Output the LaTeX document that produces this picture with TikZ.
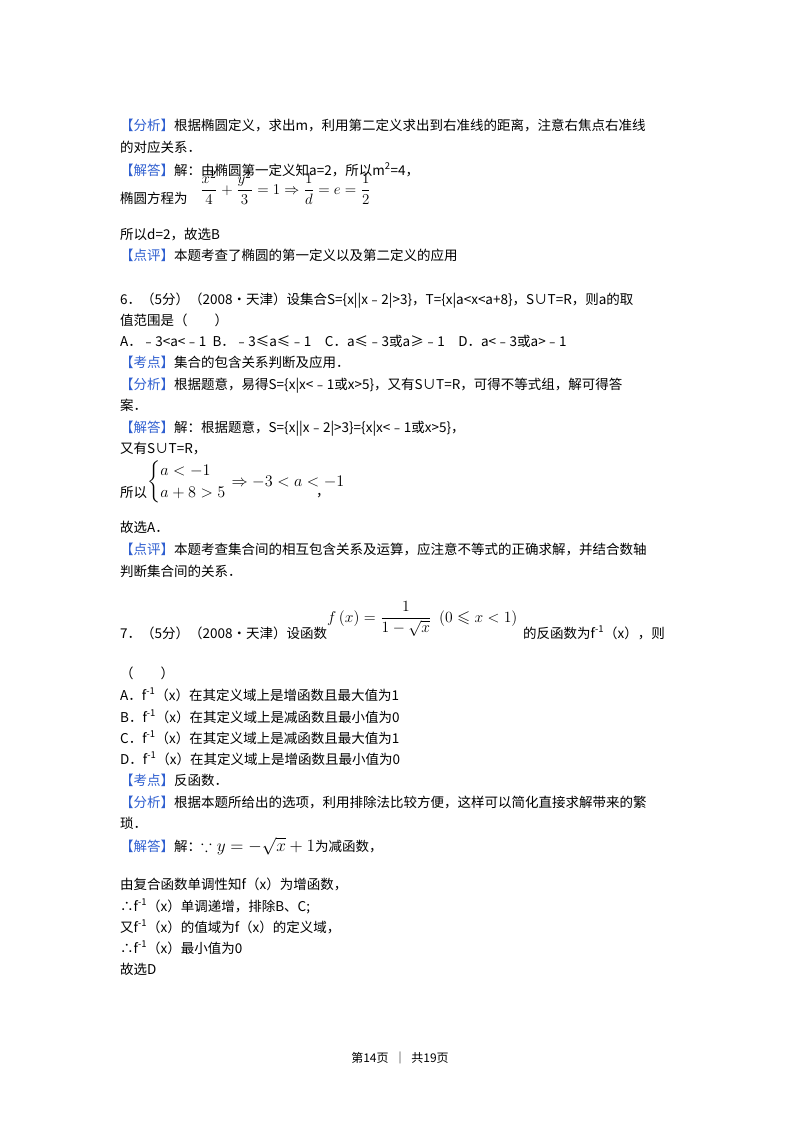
\documentclass[tikz,border=0pt]{standalone}
\usepackage{amsmath,amssymb}
\usepackage{fontspec}
\setmainfont{Noto Sans CJK SC}
\definecolor{tagblue}{HTML}{2F5FD0}
\newcommand{\tg}[1]{\textcolor{tagblue}{【#1】}}
\begin{document}
\begin{tikzpicture}[x=1pt,y=-1pt,
  ln/.style={anchor=base west,inner sep=0pt,font=\fontsize{13.5}{16}\selectfont},
  fm/.style={anchor=base west,inner sep=0pt,font=\fontsize{13}{16}\selectfont}]
\useasboundingbox (0,0) rectangle (800,1132);
\fill[white] (0,0) rectangle (800,1132);
\node[ln] (l1) at (120,130) {\tg{分析}根据椭圆定义，求出m，利用第二定义求出到右准线的距离，注意右焦点右准线};
\node[ln] (l2) at (120,152) {的对应关系．};
\node[ln] (l3) at (120,175) {\tg{解答}解：由椭圆第一定义知a=2，所以m\textsuperscript{2}=4，};
\node[ln] (l4) at (120,203) {椭圆方程为};
\node[fm] (f1) at (200,194) {\scalebox{1.25}{$\dfrac{x^2}{4}+\dfrac{y^2}{3}=1\Rightarrow\dfrac{1}{d}=e=\dfrac{1}{2}$}};
\node[ln] (l5) at (120,239) {所以d=2，故选B};
\node[ln] (l6) at (120,260) {\tg{点评}本题考查了椭圆的第一定义以及第二定义的应用};
\node[ln] (l7) at (120,304) {6．（5分）（2008•天津）设集合S=\{x||x﹣2|>3\}，T=\{x|a<x<a+8\}，S∪T=R，则a的取};
\node[ln] (l8) at (120,325) {值范围是（　　）};
\node[ln] (l9) at (120,346) {A．﹣3<a<﹣1\ \ B．﹣3≤a≤﹣1\quad C．a≤﹣3或a≥﹣1\quad D．a<﹣3或a>﹣1};
\node[ln] (l10) at (120,367) {\tg{考点}集合的包含关系判断及应用．};
\node[ln] (l11) at (120,389) {\tg{分析}根据题意，易得S=\{x|x<﹣1或x>5\}，又有S∪T=R，可得不等式组，解可得答};
\node[ln] (l12) at (120,410) {案．};
\node[ln] (l13) at (120,432) {\tg{解答}解：根据题意，S=\{x||x﹣2|>3\}=\{x|x<﹣1或x>5\}，};
\node[ln] (l14) at (120,453) {又有S∪T=R，};
\node[ln] (l15) at (120,497) {所以};
\node[fm] (f2) at (147,486) {\scalebox{1.35}{$\left\{\begin{array}{@{}l@{}}a<-1\\ a+8>5\end{array}\right.\Rightarrow -3<a<-1$}};
\node[ln] (c1) at (316,496) {，};
\node[ln] (l16) at (120,532) {故选A．};
\node[ln] (l17) at (120,554) {\tg{点评}本题考查集合间的相互包含关系及运算，应注意不等式的正确求解，并结合数轴};
\node[ln] (l18) at (120,576) {判断集合间的关系．};
\node[ln] (l19) at (120,638) {7．（5分）（2008•天津）设函数};
\node[fm] (f3) at (327,622) {\scalebox{1.3}{$f\,(x)=\dfrac{1}{1-\sqrt{x}}\ \ (0\leqslant x<1)$}};
\node[ln] (l20) at (523,638) {的反函数为f\textsuperscript{-1}（x），则};
\node[ln] (l21) at (120,678) {（　　）};
\node[ln] (l22) at (120,700) {A．f\textsuperscript{-1}（x）在其定义域上是增函数且最大值为1};
\node[ln] (l23) at (120,722) {B．f\textsuperscript{-1}（x）在其定义域上是减函数且最小值为0};
\node[ln] (l24) at (120,743) {C．f\textsuperscript{-1}（x）在其定义域上是减函数且最大值为1};
\node[ln] (l25) at (120,764) {D．f\textsuperscript{-1}（x）在其定义域上是增函数且最小值为0};
\node[ln] (l26) at (120,785) {\tg{考点}反函数．};
\node[ln] (l27) at (120,807) {\tg{分析}根据本题所给出的选项，利用排除法比较方便，这样可以简化直接求解带来的繁};
\node[ln] (l28) at (120,828) {琐．};
\node[ln] (l29) at (120,851) {\tg{解答}解：\scalebox{1.2}{$\because y=-\sqrt{x}+1$}为减函数，};
\node[ln] (l30) at (120,889) {由复合函数单调性知f（x）为增函数，};
\node[ln] (l31) at (120,911) {∴f\textsuperscript{-1}（x）单调递增，排除B、C;};
\node[ln] (l32) at (120,932) {又f\textsuperscript{-1}（x）的值域为f（x）的定义域，};
\node[ln] (l33) at (120,953) {∴f\textsuperscript{-1}（x）最小值为0};
\node[ln] (l34) at (120,974) {故选D};
\node[anchor=base,inner sep=0pt,font=\fontsize{12}{14}\selectfont] (ft) at (400,1062) {第14页 \ ｜ \ 共19页};
\end{tikzpicture}
\end{document}
